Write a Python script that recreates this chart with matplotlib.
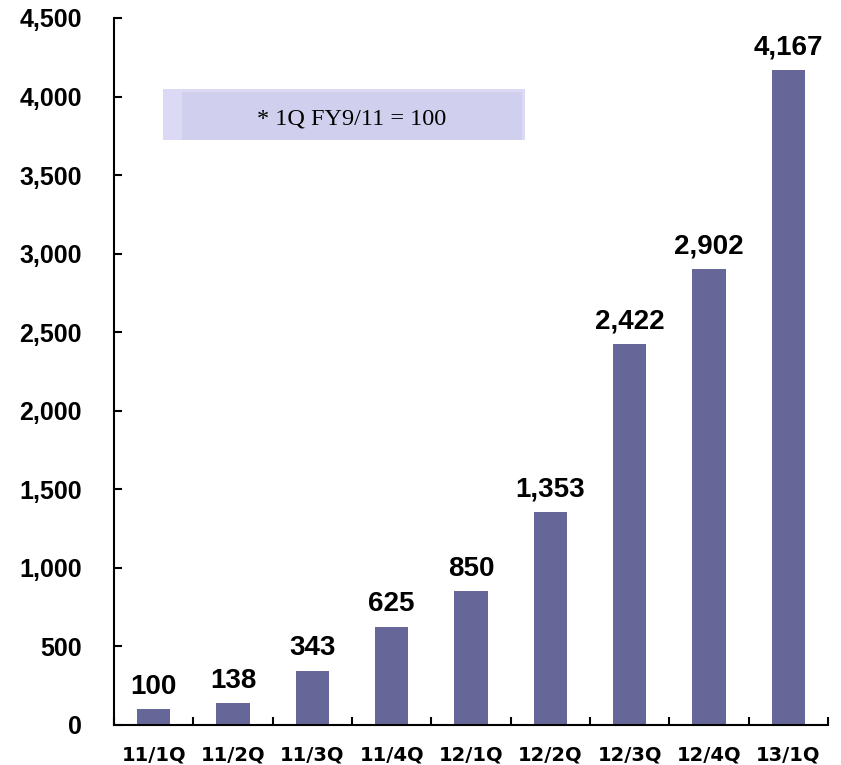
import numpy as np
import matplotlib
matplotlib.use("Agg")
import matplotlib.pyplot as plt
from matplotlib.patches import Rectangle

# ---------------------------------------------------------------------------
# Data
# ---------------------------------------------------------------------------
quarters = ["11/1Q", "11/2Q", "11/3Q", "11/4Q", "12/1Q",
            "12/2Q", "12/3Q", "12/4Q", "13/1Q"]
index_values = [100, 138, 343, 625, 850, 1353, 2422, 2902, 4167]
y_ticks = [0, 500, 1000, 1500, 2000, 2500, 3000, 3500, 4000, 4500]
note_text = "* 1Q FY9/11 = 100"

BAR_COLOR = "#666699"

fig = plt.figure(figsize=(8.41, 7.65), dpi=100)
ax = fig.add_axes([114 / 841, 1 - 725 / 765, 714 / 841, 707 / 765])

x = np.arange(len(quarters))
ax.bar(x, index_values, width=0.42, color=BAR_COLOR, zorder=2)

# value labels above bars
for xi, v in zip(x, index_values):
    ax.annotate(f"{v:,}", (xi, v), xytext=(0, 7), textcoords="offset points",
                ha="center", va="bottom", fontsize=20, fontweight="bold",
                family="Liberation Sans", color="black")

ax.set_xlim(-0.5, len(quarters) - 0.5)
ax.set_ylim(0, 4500)

ax.set_yticks(y_ticks)
ax.set_yticklabels([f"{t:,}" for t in y_ticks], fontsize=18,
                   fontweight="bold", family="Liberation Sans")
ax.tick_params(axis="y", direction="in", length=6, width=1.5, pad=23)

ax.set_xticks(x)
ax.set_xticklabels(quarters, fontsize=14, fontweight="bold",
                   family="DejaVu Sans")
ax.tick_params(axis="x", which="major", length=0, pad=15)
ax.set_xticks(np.arange(len(quarters) + 1) - 0.5, minor=True)
ax.tick_params(axis="x", which="minor", direction="in", length=6, width=1.5)

for side in ("top", "right"):
    ax.spines[side].set_visible(False)
for side in ("left", "bottom"):
    ax.spines[side].set_linewidth(1.5)

# note box (light outer strip + main panel)
ax.add_patch(Rectangle((0.0686, 0.8274), 0.5756 - 0.0686, 0.8996 - 0.8274,
                       transform=ax.transAxes, facecolor="#DCD9F5",
                       edgecolor="none", zorder=3))
ax.add_patch(Rectangle((0.0952, 0.8274), 0.5714 - 0.0952, 0.8953 - 0.8274,
                       transform=ax.transAxes, facecolor="#D0D0EE",
                       edgecolor="none", zorder=3))
ax.text(0.3333, 0.8575, note_text, transform=ax.transAxes, ha="center",
        va="center", fontsize=17.5, family="Liberation Serif", zorder=4)

fig.savefig("out.png", dpi=100)
